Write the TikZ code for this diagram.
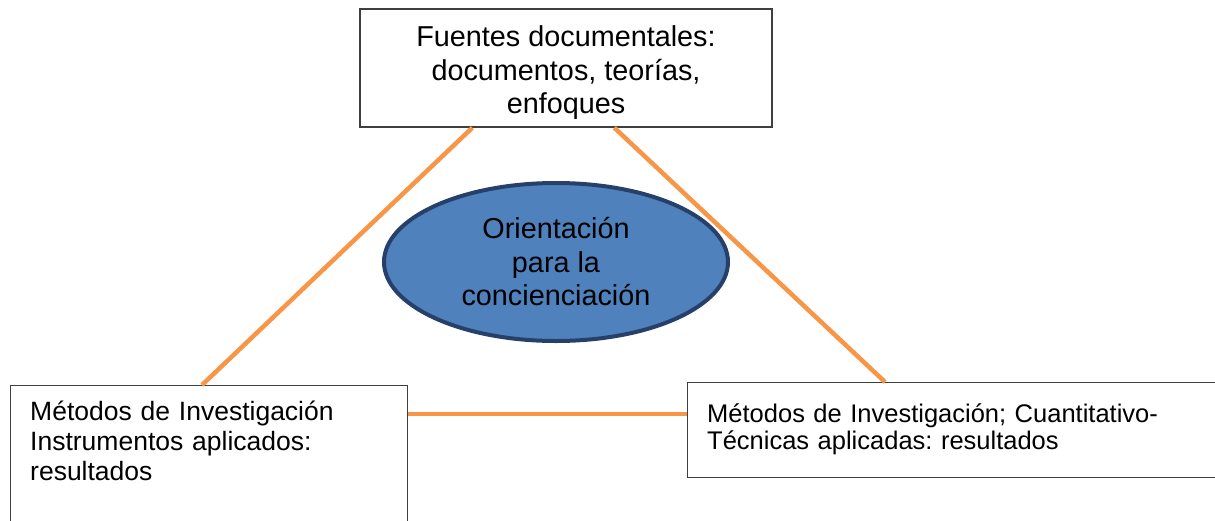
\documentclass[tikz,border=0pt]{standalone}
\usepackage{fontspec}
\setmainfont{Liberation Sans}
\frenchspacing
\usetikzlibrary{shapes.geometric}
\definecolor{linkorange}{HTML}{F79646}
\definecolor{ovalblue}{HTML}{4F81BD}
\definecolor{ovaledge}{HTML}{27406A}
\definecolor{boxedge}{HTML}{3F3F3F}

\begin{document}
\begin{tikzpicture}[x=1pt, y=-1pt,
    box/.style={draw=boxedge, line width=1.4pt, fill=white, rectangle, inner sep=0pt},
    link/.style={draw=linkorange, line width=4.5pt},
    bigtext/.style={font=\fontsize{28.8}{33.5}\selectfont},
    smalltext/.style={font=\fontsize{26.5}{30}\selectfont}]
    \useasboundingbox (0,0) rectangle (1215,520);
    \clip (0,0) rectangle (1215,520);

    \node[box, minimum width=412pt, minimum height=118pt] (fuentes) at (566,68) {};
    \node[bigtext, align=center, inner sep=0pt] (fuentestxt) at ([yshift=-5pt]fuentes.center) {Fuentes documentales:\\documentos, teorías,\\enfoques};

    \node[box, minimum width=397pt, minimum height=160pt, anchor=north west] (metodos) at (10,385) {};
    \node[smalltext, text width=370pt, inner sep=0pt, anchor=base west] (metodostxt) at ([xshift=20pt,yshift=-35pt]metodos.north west) {Métodos de Investigación\\Instrumentos aplicados:\\resultados};

    \node[box, minimum width=545pt, minimum height=95pt, anchor=north west] (cuanti) at (687,382) {};
    \node[smalltext, font=\fontsize{25.5}{27}\selectfont, text width=500pt, inner sep=0pt, anchor=base west] (cuantitxt) at ([xshift=20pt,yshift=-40pt]cuanti.north west) {Métodos de Investigación; Cuantitativo-\\Técnicas aplicadas: resultados};

    \draw[link] ([xshift=113pt]fuentes.south west) -- ([xshift=192pt]metodos.north west);
    \draw[link] ([xshift=255pt]fuentes.south west) -- ([xshift=198pt]cuanti.north west);
    \draw[link] ([yshift=-29pt]metodos.north east) -- ([yshift=-32pt]cuanti.north west);

    \node[ellipse, draw=ovaledge, line width=4pt, fill=ovalblue, minimum width=344pt, minimum height=158pt, inner sep=0pt, align=center, bigtext] (orient) at (556,262) {Orientación\\para la\\concienciación};
\end{tikzpicture}
\end{document}
